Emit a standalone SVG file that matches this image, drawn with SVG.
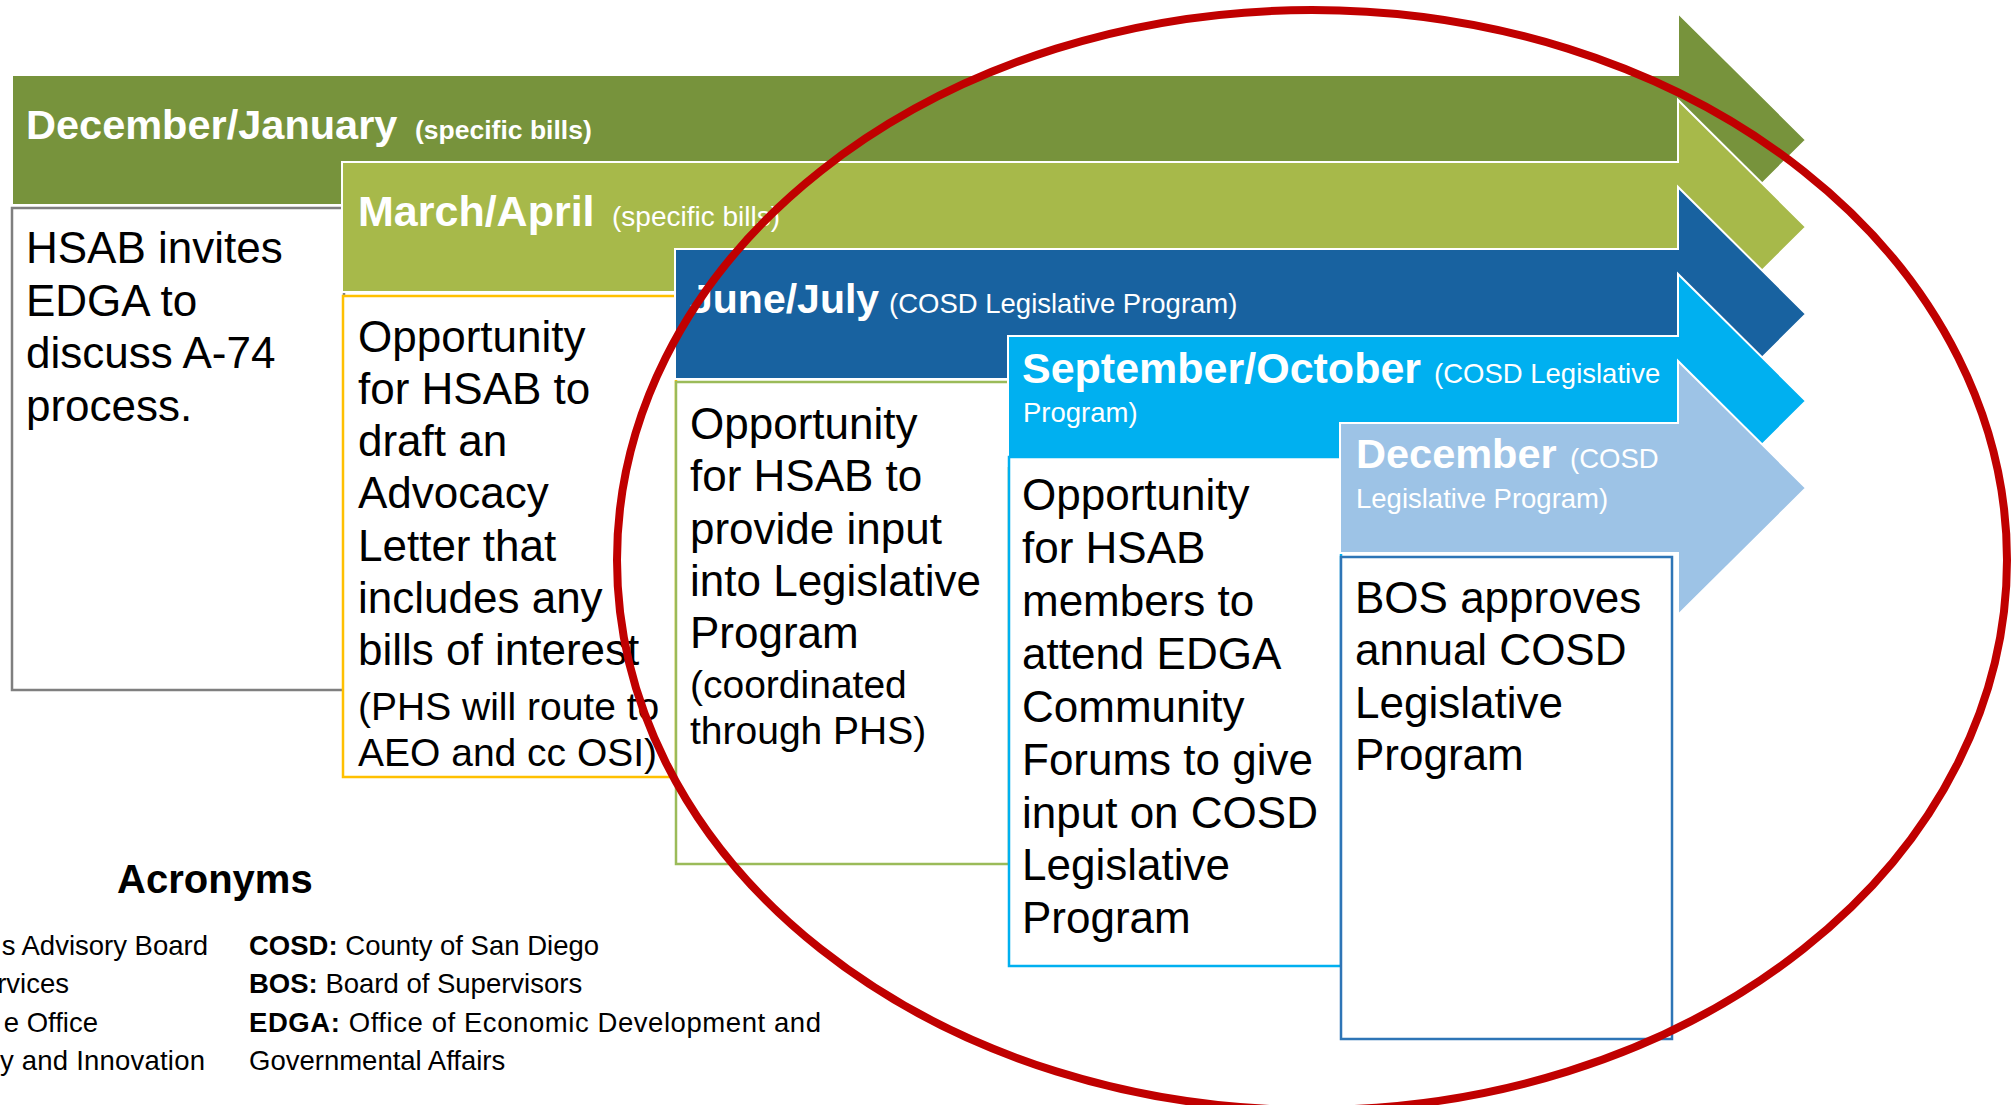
<svg xmlns="http://www.w3.org/2000/svg" width="2016" height="1105" viewBox="0 0 2016 1105">
<style>
text{font-family:"Liberation Sans",Arial,sans-serif}
.band{stroke:#fff;stroke-width:2}
.box{fill:#fff;stroke-width:2.5}
.h{font-weight:bold;fill:#fff;font-size:43px}
.hs{fill:#fff;font-size:27.5px}
.t{fill:#000;font-size:44px}
.ts{fill:#000;font-size:39px}
.ac{fill:#000;font-size:27.5px}
</style>
<rect width="2016" height="1105" fill="#fff"/>
<g id="band-decjan">
<polygon class="band" fill="#77933C" points="12,75 1678,75 1678,13 1806,140 1678,267 1678,205 12,205"/>
<text x="26" y="139" class="h" style="font-size:41.5px">December/January</text>
<text x="415" y="139" class="hs" style="font-weight:bold;font-size:26.5px">(specific bills)</text>
</g>
<g id="box-decjan">
<rect class="box" stroke="#7F7F7F" x="12" y="208" width="332" height="482"/>
<text class="t"><tspan x="26" y="263">HSAB invites</tspan><tspan x="26" y="315.5">EDGA to</tspan><tspan x="26" y="368">discuss A-74</tspan><tspan x="26" y="420.5">process.</tspan></text>
</g>
<g id="band-marapr">
<polygon class="band" fill="#A7B94A" points="342,162 1678,162 1678,100 1806,227 1678,354 1678,292 342,292"/>
<text x="358" y="226" class="h">March/April</text>
<text x="612" y="226" class="hs" style="font-size:28px">(specific bills)</text>
</g>
<g id="box-marapr">
<rect class="box" stroke="#FFC000" x="343" y="296" width="333" height="481"/>
<text class="t"><tspan x="358" y="352">Opportunity</tspan><tspan x="358" y="404">for HSAB to</tspan><tspan x="358" y="456">draft an</tspan><tspan x="358" y="508">Advocacy</tspan><tspan x="358" y="561">Letter that</tspan><tspan x="358" y="613">includes any</tspan><tspan x="358" y="665">bills of interest</tspan></text>
<text class="ts"><tspan x="358" y="720">(PHS will route to</tspan><tspan x="358" y="766">AEO and cc OSI)</tspan></text>
</g>
<g id="band-junjul">
<polygon class="band" fill="#1862A0" points="675,249 1678,249 1678,187 1806,314 1678,441 1678,379 675,379"/>
<text x="690" y="313" class="h" style="font-size:41px">June/July</text>
<text x="889" y="313" class="hs">(COSD Legislative Program)</text>
</g>
<g id="box-junjul">
<rect class="box" stroke="#9BBB59" x="676" y="382" width="333" height="482"/>
<text class="t"><tspan x="690" y="439">Opportunity</tspan><tspan x="690" y="491">for HSAB to</tspan><tspan x="690" y="544">provide input</tspan><tspan x="690" y="596">into Legislative</tspan><tspan x="690" y="648">Program</tspan></text>
<text class="ts"><tspan x="690" y="698">(coordinated</tspan><tspan x="690" y="744">through PHS)</tspan></text>
</g>
<g id="band-sepoct">
<polygon class="band" fill="#00B0F0" points="1008,336 1678,336 1678,274 1806,401 1678,528 1678,466 1008,466"/>
<text x="1022" y="383" class="h">September/October</text>
<text x="1434" y="383" class="hs">(COSD Legislative</text>
<text x="1023" y="422" class="hs">Program)</text>
</g>
<g id="box-sepoct">
<rect class="box" stroke="#00B0F0" x="1009" y="457" width="332" height="509"/>
<text class="t"><tspan x="1022" y="510">Opportunity</tspan><tspan x="1022" y="563">for HSAB</tspan><tspan x="1022" y="616">members to</tspan><tspan x="1022" y="669">attend EDGA</tspan><tspan x="1022" y="722">Community</tspan><tspan x="1022" y="775">Forums to give</tspan><tspan x="1022" y="828">input on COSD</tspan><tspan x="1022" y="880">Legislative</tspan><tspan x="1022" y="933">Program</tspan></text>
</g>
<g id="band-dec">
<polygon class="band" fill="#9DC3E6" points="1340,423 1678,423 1678,361 1806,488 1678,615 1678,553 1340,553"/>
<text x="1356" y="468" class="h" style="font-size:41.5px">December</text>
<text x="1570" y="468" class="hs">(COSD</text>
<text x="1356" y="508" class="hs">Legislative Program)</text>
</g>
<g id="box-dec">
<rect class="box" stroke="#2E75B6" x="1341" y="557" width="331" height="482"/>
<text class="t"><tspan x="1355" y="613">BOS approves</tspan><tspan x="1355" y="665">annual COSD</tspan><tspan x="1355" y="718">Legislative</tspan><tspan x="1355" y="770">Program</tspan></text>
</g>
<g id="acronyms">
<text x="117" y="893" style="font-weight:bold;font-size:40px">Acronyms</text>
<g class="ac" text-anchor="end">
<text x="208" y="955" class="ac">s Advisory Board</text>
<text x="69" y="993" class="ac">rvices</text>
<text x="98" y="1032" class="ac">e Office</text>
<text x="205" y="1070" class="ac" textLength="205" lengthAdjust="spacing">y and Innovation</text>
</g>
<text x="249" y="955" class="ac"><tspan font-weight="bold">COSD:</tspan> County of San Diego</text>
<text x="249" y="993" class="ac"><tspan font-weight="bold">BOS:</tspan> Board of Supervisors</text>
<text x="249" y="1032" class="ac" textLength="572" lengthAdjust="spacing"><tspan font-weight="bold">EDGA:</tspan> Office of Economic Development and</text>
<text x="249" y="1070" class="ac">Governmental Affairs</text>
</g>
<g id="highlight">
<ellipse cx="1312" cy="560" rx="695" ry="550" fill="none" stroke="#C00000" stroke-width="8"/>
</g>
</svg>
